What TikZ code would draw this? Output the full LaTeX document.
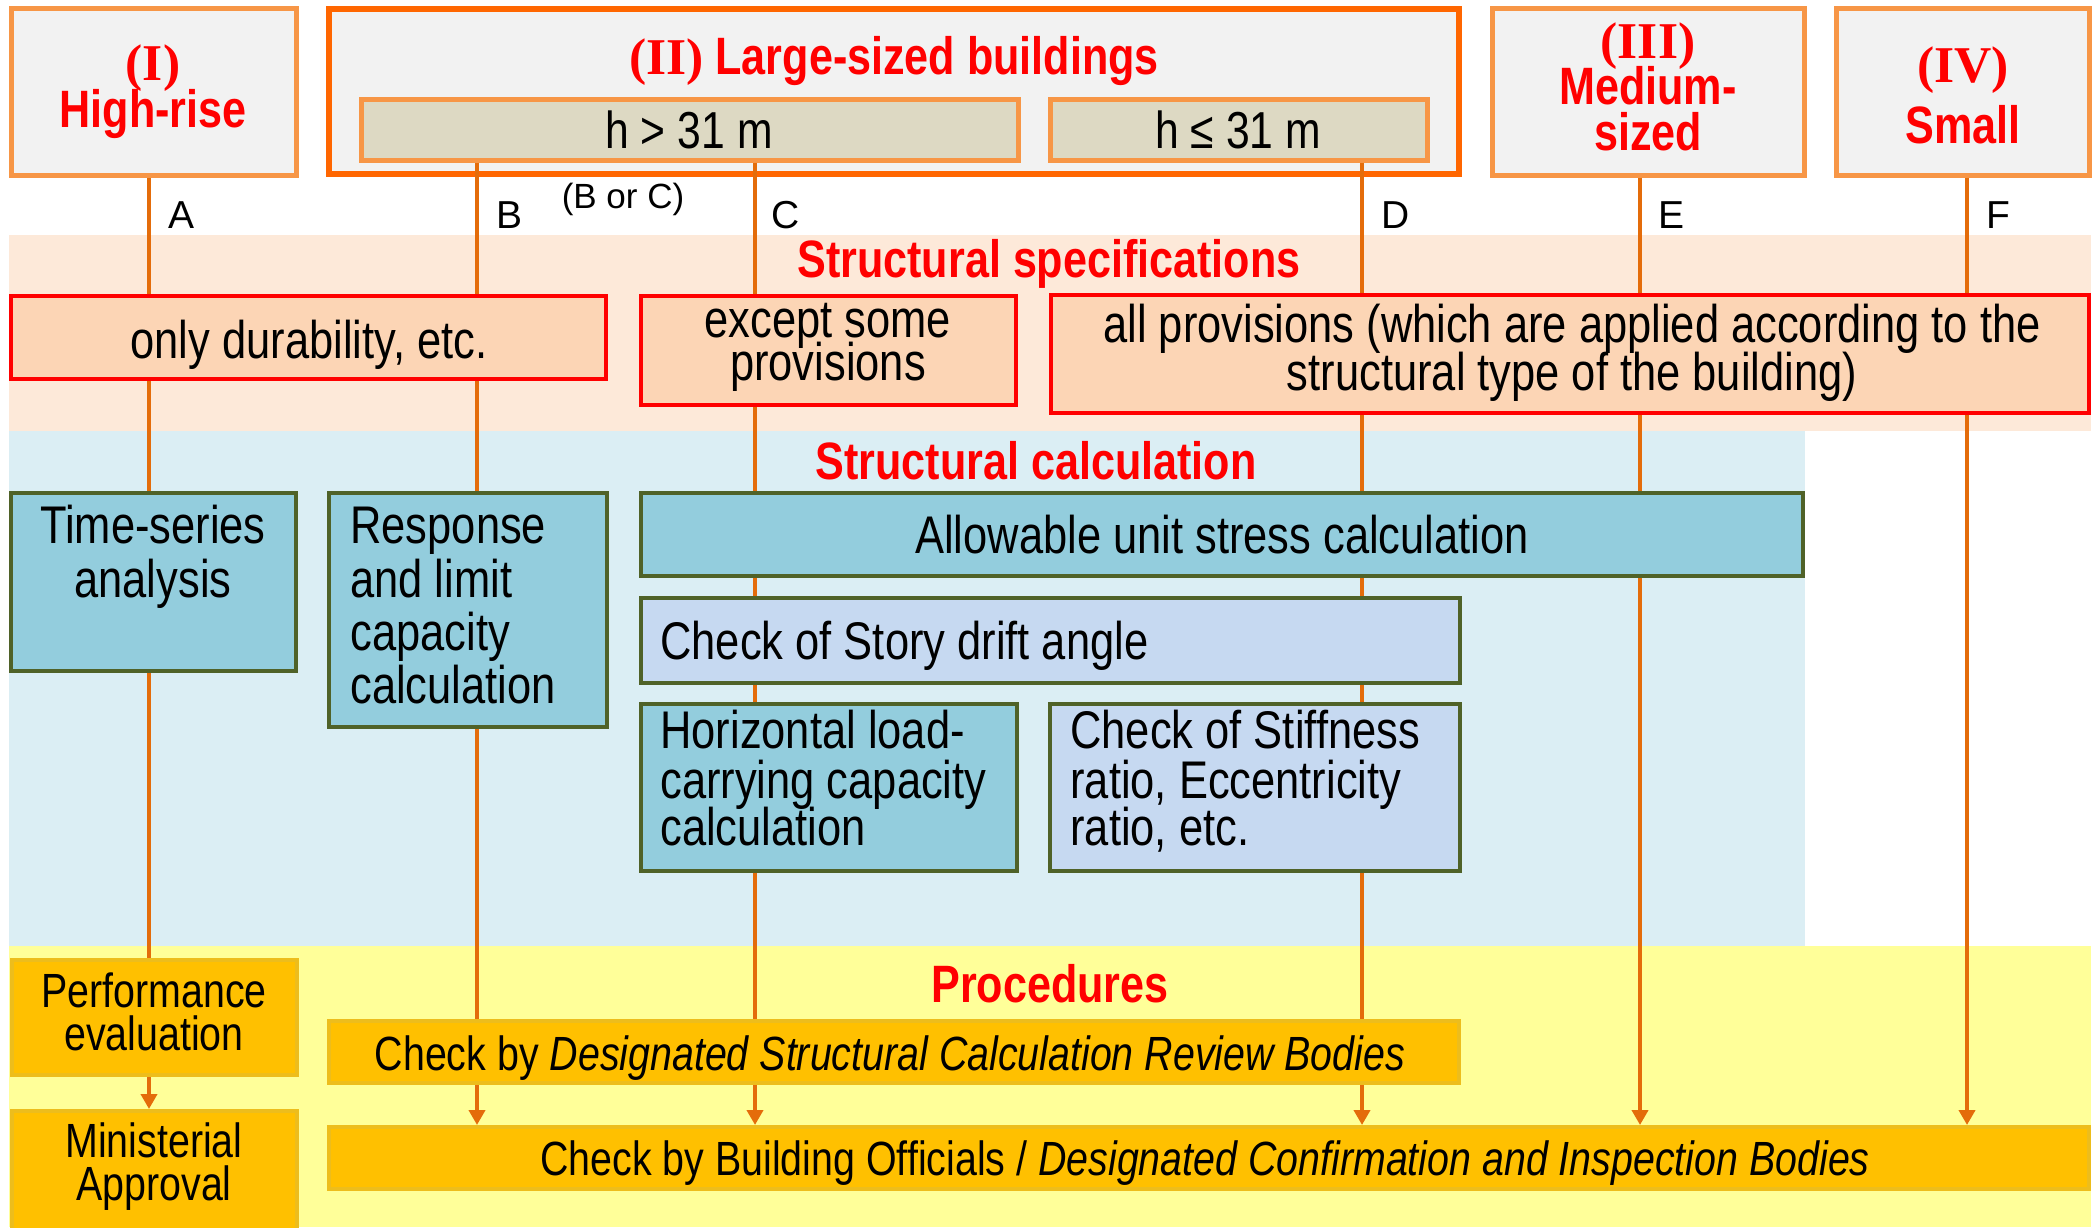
\documentclass[tikz,border=0pt]{standalone}
\usepackage{fontspec}
\setmainfont{Liberation Sans}[FakeStretch=0.82]
\newfontfamily\widesans{Liberation Sans}
\newfontfamily\romfont{Liberation Serif}
\usetikzlibrary{arrows.meta,fit}

\definecolor{hdrfill}{HTML}{F2F2F2}
\definecolor{hdrline}{HTML}{F79646}
\definecolor{grpline}{HTML}{FF6600}
\definecolor{hfill}{HTML}{DDD9C3}
\definecolor{specband}{HTML}{FDE9D9}
\definecolor{specfill}{HTML}{FCD5B5}
\definecolor{specline}{HTML}{FF0000}
\definecolor{calcband}{HTML}{DBEEF4}
\definecolor{calcfill}{HTML}{93CDDD}
\definecolor{lavfill}{HTML}{C6D9F1}
\definecolor{calcline}{HTML}{4F6228}
\definecolor{procband}{HTML}{FFFF99}
\definecolor{procfill}{HTML}{FFC000}
\definecolor{procline}{HTML}{EDBD1C}
\definecolor{headred}{HTML}{FF0000}
\definecolor{linkc}{HTML}{E46C0A}

\pgfdeclarelayer{bands}
\pgfdeclarelayer{links}
\pgfsetlayers{bands,links,main}

\tikzset{
  hdrbox/.style={draw=hdrline, fill=hdrfill, line width=2.5pt, inner sep=0pt},
  grpbox/.style={draw=grpline, fill=hdrfill, line width=3pt, inner sep=0pt},
  hbox/.style={draw=hdrline, fill=hfill, line width=2.5pt, inner sep=0pt},
  specbox/.style={draw=specline, fill=specfill, line width=2pt, inner sep=0pt},
  calcbox/.style={draw=calcline, fill=calcfill, line width=2pt, inner sep=0pt},
  lavbox/.style={calcbox, fill=lavfill},
  procbox/.style={draw=procline, fill=procfill, line width=2pt, inner sep=0pt},
  body/.style={inner sep=0pt, font=\fontsize{26.5}{27}\selectfont},
  bodysm/.style={inner sep=0pt, font=\fontsize{24}{24}\selectfont},
  head/.style={inner sep=0pt, text=headred, font=\bfseries\fontsize{26.3}{26}\selectfont},
  roman/.style={inner sep=0pt, text=headred, font=\romfont\bfseries\fontsize{25.8}{26}\selectfont},
  lbl/.style={inner sep=0pt, font=\widesans\fontsize{19.5}{20}\selectfont},
  link/.style={draw=linkc, line width=1.9pt},
  arr/.style={link, -{Triangle[width=8pt,length=7.5pt]}},
}

\begin{document}
\begin{tikzpicture}[x=0.5pt, y=-0.5pt]
\useasboundingbox (0,0) rectangle (2096,1227);

% background bands and header boxes
\begin{pgfonlayer}{bands}
\fill[white] (0,0) rectangle (2096,1227);
\fill[specband] (9,235) rectangle (2091,431);
\fill[calcband] (9,431) rectangle (1805,946);
\fill[procband] (9,946) rectangle (2091,1227);

\node[hdrbox, fit={(11,8) (296,175)}] (hi) {};
\node[grpbox, fit={(329,9) (1459,174)}] (lg) {};
\node[hbox, fit={(361,99) (1018,160)}] (hgt) {};
\node[hbox, fit={(1050,99) (1427,160)}] (hle) {};
\node[hdrbox, fit={(1492,8) (1804,175)}] (md) {};
\node[hdrbox, fit={(1836,8) (2089,175)}] (sm) {};
\end{pgfonlayer}

% specification boxes
\node[specbox, fit={(11,296) (606,379)}] (dur) {};
\node[specbox, fit={(641,296) (1016,405)}] (exc) {};
\node[specbox, fit={(1051,295) (2089,413)}] (allp) {};

% calculation boxes
\node[calcbox, fit={(11,493) (296,671)}] (ts) {};
\node[calcbox, fit={(329,493) (607,727)}] (resp) {};
\node[calcbox, fit={(641,493) (1803,576)}] (allow) {};
\node[lavbox, fit={(641,598) (1460,683)}] (drift) {};
\node[calcbox, fit={(641,704) (1017,871)}] (horiz) {};
\node[lavbox, fit={(1050,704) (1460,871)}] (stiff) {};

% procedure boxes
\node[procbox, fit={(12,960) (297,1075)}] (perf) {};
\node[procbox, fit={(12,1111) (297,1236)}] (mini) {};
\node[procbox, fit={(329,1021) (1459,1083)}] (dscrb) {};
\node[procbox, fit={(329,1127) (2089,1189)}] (bo) {};

% route columns
\coordinate (xA) at (149,0);
\coordinate (xB) at (477,0);
\coordinate (xC) at (755,0);
\coordinate (xD) at (1362,0);
\coordinate (xE) at (1640,0);
\coordinate (xF) at (1967,0);

\begin{pgfonlayer}{links}
\draw[arr] (hi.south -| xA) -- (mini.north -| xA);
\draw[arr] (hgt.south -| xB) -- (bo.north -| xB);
\draw[arr] (hgt.south -| xC) -- (bo.north -| xC);
\draw[arr] (hle.south -| xD) -- (bo.north -| xD);
\draw[arr] (md.south -| xE) -- (bo.north -| xE);
\draw[arr] (sm.south -| xF) -- (bo.north -| xF);
\end{pgfonlayer}

% header texts
\node[roman, anchor=base] (hiA) at (153,80) {(I)};
\node[head, anchor=base] (hiB) at (153,127) {High-rise};
\node[head, anchor=base] (lgA) at (894,74) {{\romfont\fontsize{25.8}{26}\selectfont (II)} Large-sized buildings};
\node[body, font=\fontsize{26}{26}\selectfont, anchor=base] (hgtT) at (689,148) {h > 31 m};
\node[body, font=\fontsize{26}{26}\selectfont, anchor=base] (hleT) at (1238,148) {h ≤ 31 m};
\node[roman, anchor=base] (mdA) at (1648,58) {(III)};
\node[head, anchor=base] (mdB) at (1648,104) {Medium-};
\node[head, anchor=base] (mdC) at (1648,150) {sized};
\node[roman, anchor=base] (smA) at (1963,82) {(IV)};
\node[head, anchor=base] (smB) at (1963,143) {Small};

% route labels
\node[lbl, anchor=base] (lA) at (182,228) {A};
\node[lbl, anchor=base] (lB) at (509,228) {B};
\node[lbl, anchor=base, font=\widesans\fontsize{17.5}{18}\selectfont] (lBC) at (623,208) {(B or C)};
\node[lbl, anchor=base] (lC) at (786,228) {C};
\node[lbl, anchor=base] (lD) at (1396,228) {D};
\node[lbl, anchor=base] (lE) at (1671,228) {E};
\node[lbl, anchor=base] (lF) at (1998,228) {F};

% section titles
\node[head, anchor=base] (secS) at (1049,277) {Structural specifications};
\node[head, anchor=base] (secC) at (1036,479) {Structural calculation};
\node[head, anchor=base] (secP) at (1050,1002) {Procedures};

% specification texts
\node[body, anchor=base] (durT) at (309,358) {only durability, etc.};
\foreach \t/\y [count=\i] in {except some/337, provisions/380}
  \node[body, anchor=base] (excT\i) at (828,\y) {\t};
\foreach \t/\y [count=\i] in {all provisions (which are applied according to the/342, structural type of the building)/390}
  \node[body, anchor=base] (allpT\i) at (1572,\y) {\t};

% calculation texts
\foreach \t/\y [count=\i] in {Time-series/543, analysis/597}
  \node[body, anchor=base] (tsT\i) at (153,\y) {\t};
\foreach \t/\y [count=\i] in {Response/543, and limit/597, capacity/650, calculation/703}
  \node[body, anchor=base west] (respT\i) at (350,\y) {\t};
\node[body, anchor=base] (allowT) at (1222,553) {Allowable unit stress calculation};
\node[body, anchor=base west] (driftT) at (660,659) {Check of Story drift angle};
\foreach \t/\y [count=\i] in {Horizontal load-/748, carrying capacity/798, calculation/845}
  \node[body, anchor=base west] (horizT\i) at (660,\y) {\t};
\foreach \t/\y [count=\i] in {Check of Stiffness/748, {ratio, Eccentricity}/798, {ratio, etc.}/845}
  \node[body, anchor=base west] (stiffT\i) at (1070,\y) {\t};

% procedure texts
\foreach \t/\y [count=\i] in {Performance/1007, evaluation/1050}
  \node[bodysm, anchor=base] (perfT\i) at (154,\y) {\t};
\foreach \t/\y [count=\i] in {Ministerial/1157, Approval/1200}
  \node[bodysm, anchor=base] (miniT\i) at (154,\y) {\t};
\node[bodysm, anchor=base] (dscrbT) at (890,1070) {Check by \textit{Designated Structural Calculation Review Bodies}};
\node[bodysm, anchor=base] (boT) at (1205,1175) {Check by Building Officials / \textit{Designated Confirmation and Inspection Bodies}};
\end{tikzpicture}
\end{document}
